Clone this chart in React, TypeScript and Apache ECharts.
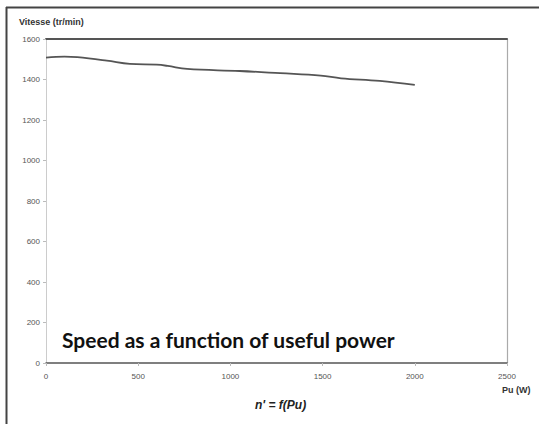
import React, { useEffect, useRef } from "react";
import * as echarts from "echarts";

const power = [0, 100, 170, 330, 455, 600, 660, 765, 1050, 1270, 1490, 1600, 1810, 2000];
const speed = [1508, 1513, 1510, 1493, 1477, 1473, 1467, 1452, 1442, 1431, 1419, 1406, 1393, 1373];
const xTicks = [0, 500, 1000, 1500, 2000, 2500];
const yTicks = [0, 200, 400, 600, 800, 1000, 1200, 1400, 1600];

const yAxisTitle = "Vitesse (tr/min)";
const xAxisTitle = "Pu (W)";
const caption = "Speed as a function of useful power";
const formula = "n' = f(Pu)";

export default function App() {
  const ref = useRef<HTMLDivElement>(null);
  useEffect(() => {
    if (!ref.current) return;
    const chart = echarts.init(ref.current, null, { renderer: "svg" });
    const labelFont = { fontFamily: "Liberation Sans, Arial, sans-serif", fontSize: 8, color: "#555" };
    const plain = (v: number) => String(v);
    chart.setOption({
      animation: false,
      backgroundColor: "#ffffff",
      grid: { left: 46, right: 32, top: 39, bottom: 61 },
      xAxis: [
        {
          type: "value",
          min: xTicks[0],
          max: xTicks[xTicks.length - 1],
          interval: 500,
          axisLine: { show: true, onZero: false, lineStyle: { color: "#555", width: 1.5 } },
          axisTick: { show: true, length: 3, lineStyle: { color: "#bbb" } },
          axisLabel: { ...labelFont, margin: 9, formatter: plain },
          splitLine: { show: false },
        },
        {
          type: "value",
          position: "top",
          min: xTicks[0],
          max: xTicks[xTicks.length - 1],
          axisLine: { show: true, onZero: false, lineStyle: { color: "#555", width: 2 } },
          axisTick: { show: false },
          axisLabel: { show: false },
          splitLine: { show: false },
        },
      ],
      yAxis: [
        {
          type: "value",
          min: yTicks[0],
          max: yTicks[yTicks.length - 1],
          interval: 200,
          axisLine: { show: true, onZero: false, lineStyle: { color: "#ccc", width: 1 } },
          axisTick: { show: true, length: 3, lineStyle: { color: "#bbb" } },
          axisLabel: { ...labelFont, margin: 6, formatter: plain },
          splitLine: { show: false },
        },
        {
          type: "value",
          position: "right",
          min: yTicks[0],
          max: yTicks[yTicks.length - 1],
          axisLine: { show: true, onZero: false, lineStyle: { color: "#aaa", width: 1.2 } },
          axisTick: { show: false },
          axisLabel: { show: false },
          splitLine: { show: false },
        },
      ],
      series: [
        {
          type: "line",
          data: power.map((p, i) => [p, speed[i]]),
          smooth: 0.4,
          showSymbol: false,
          lineStyle: { color: "#555", width: 1.8 },
        },
      ],
      graphic: [
        { type: "line", shape: { x1: 6, y1: 7.5, x2: 539, y2: 7.5 }, style: { stroke: "#444", lineWidth: 2 } },
        { type: "line", shape: { x1: 6.5, y1: 7, x2: 6.5, y2: 424 }, style: { stroke: "#444", lineWidth: 2 } },
        {
          type: "text",
          left: 19,
          top: 17,
          style: { text: yAxisTitle, fontFamily: "Liberation Sans, Arial, sans-serif", fontSize: 9, fontWeight: "bold", fill: "#333" },
        },
        {
          type: "text",
          left: 502,
          top: 385,
          style: { text: xAxisTitle, fontFamily: "Liberation Sans, Arial, sans-serif", fontSize: 9, fontWeight: "bold", fill: "#333" },
        },
        {
          type: "text",
          left: 255,
          top: 399,
          style: { text: formula, fontFamily: "Liberation Sans, Arial, sans-serif", fontSize: 12, fontWeight: "bold", fontStyle: "italic", fill: "#222" },
        },
        {
          type: "text",
          left: 62,
          top: 329,
          style: { text: caption, fontFamily: "Lato, sans-serif", fontSize: 21, fontWeight: "bold", fill: "#111" },
        },
      ],
    });
    return () => chart.dispose();
  }, []);
  return (
    <div
      ref={ref}
      style={{ position: "absolute", left: 0, top: 0, width: 539, height: 424, background: "#fff" }}
    />
  );
}
